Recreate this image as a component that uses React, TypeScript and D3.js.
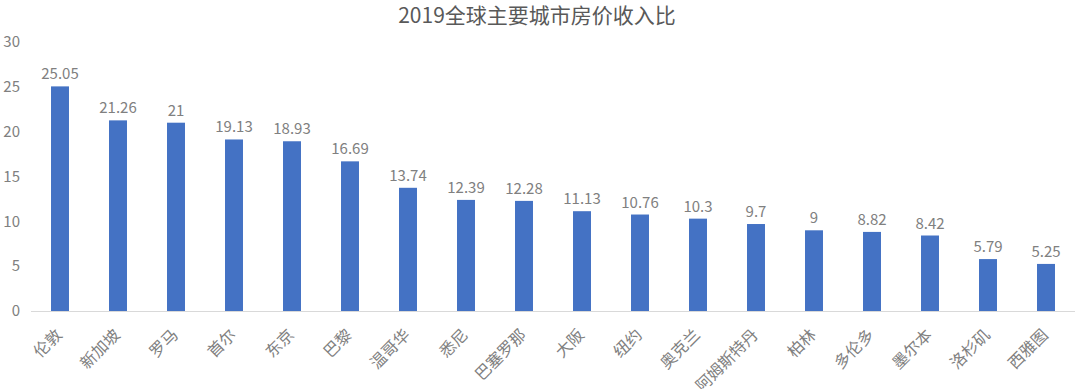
import { useEffect, useRef } from "react";
import * as d3 from "d3";

const cities = [
  "伦敦", "新加坡", "罗马", "首尔", "东京", "巴黎", "温哥华", "悉尼", "巴塞罗那",
  "大阪", "纽约", "奥克兰", "阿姆斯特丹", "柏林", "多伦多", "墨尔本", "洛杉矶", "西雅图",
];
const ratios = [
  25.05, 21.26, 21, 19.13, 18.93, 16.69, 13.74, 12.39, 12.28,
  11.13, 10.76, 10.3, 9.7, 9, 8.82, 8.42, 5.79, 5.25,
];
const yTicks = [0, 5, 10, 15, 20, 25, 30];

const font = "'Noto Sans CJK SC', 'Noto Sans', sans-serif";

const App = () => {
  const chartRef = useRef<SVGSVGElement>(null);

  useEffect(() => {
    const svg = d3.select(chartRef.current);
    svg.selectAll("*").remove();

    const left = 31;
    const right = 1075;
    const top = 42;
    const bottom = 311;

    const x = d3.scaleBand().domain(cities).range([left, right]).paddingInner(0.69).paddingOuter(0.345);
    const y = d3.scaleLinear().domain([0, 30]).range([bottom, top]);

    // title
    svg.append("text")
      .attr("x", 537)
      .attr("y", 23)
      .attr("text-anchor", "middle")
      .style("font-size", "21px")
      .style("fill", "#595959")
      .text("2019全球主要城市房价收入比");

    // y tick labels
    svg.append("g")
      .selectAll("text")
      .data(yTicks)
      .enter()
      .append("text")
      .attr("x", 20)
      .attr("y", (d) => y(d))
      .attr("dy", "0.35em")
      .attr("text-anchor", "end")
      .style("font-size", "15px")
      .style("fill", "#808080")
      .text((d) => d);

    // bars
    svg.append("g")
      .selectAll("rect")
      .data(ratios)
      .enter()
      .append("rect")
      .attr("x", (d, i) => x(cities[i])!)
      .attr("width", x.bandwidth())
      .attr("y", (d) => y(d))
      .attr("height", (d) => y(0) - y(d))
      .attr("fill", "#4472C4");

    // value labels
    svg.append("g")
      .selectAll("text")
      .data(ratios)
      .enter()
      .append("text")
      .attr("x", (d, i) => x(cities[i])! + x.bandwidth() / 2)
      .attr("y", (d) => y(d) - 7)
      .attr("text-anchor", "middle")
      .style("font-size", "15px")
      .style("fill", "#808080")
      .text((d) => d);

    // x axis line
    svg.append("line")
      .attr("x1", left)
      .attr("x2", right)
      .attr("y1", bottom + 0.5)
      .attr("y2", bottom + 0.5)
      .attr("stroke", "#D9D9D9")
      .attr("stroke-width", 1);

    // category labels
    svg.append("g")
      .selectAll("text")
      .data(cities)
      .enter()
      .append("text")
      .attr("transform", (d) => `translate(${x(d)! + x.bandwidth() / 2 - 1},${bottom + 21}) rotate(-45)`)
      .attr("text-anchor", "end")
      .attr("dy", "0.35em")
      .style("font-size", "16px")
      .style("fill", "#808080")
      .text((d) => d);
  }, []);

  return (
    <svg
      ref={chartRef}
      width={1080}
      height={389}
      style={{ position: "absolute", left: 0, top: 0, fontFamily: font, background: "#fff" }}
    ></svg>
  );
};

export default App;
